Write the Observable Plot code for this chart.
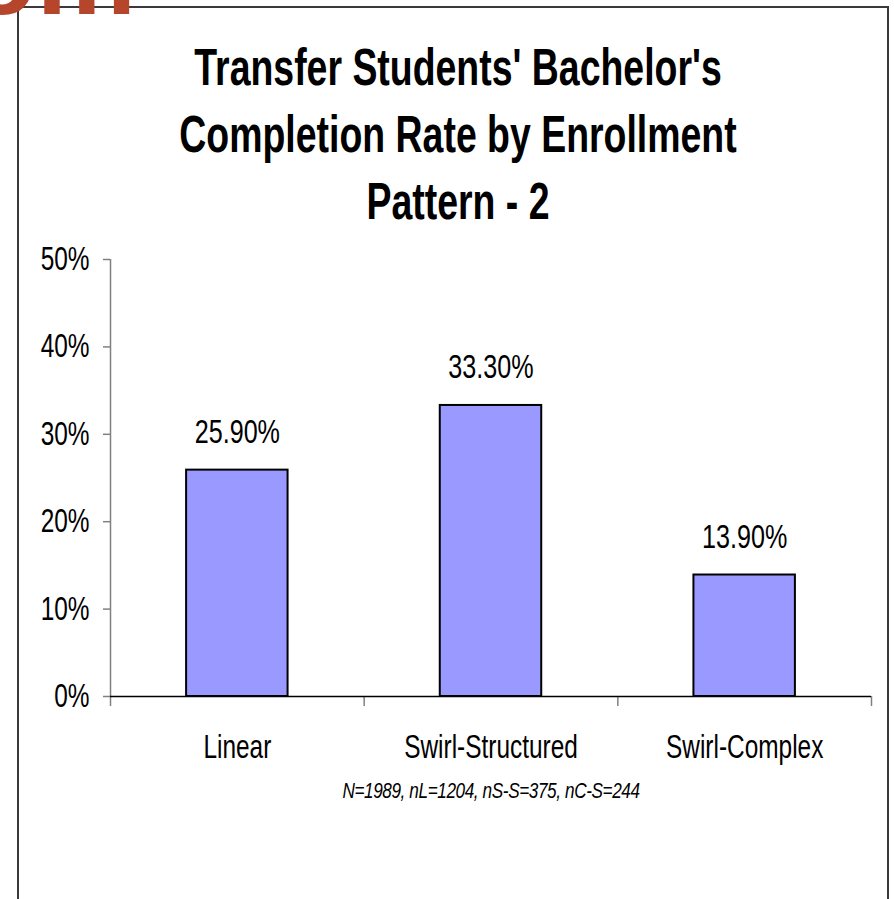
<!DOCTYPE html>
<html>
<head>
<meta charset="utf-8">
<script src="https://cdn.jsdelivr.net/npm/d3@7"></script>
<script src="https://cdn.jsdelivr.net/npm/@observablehq/plot@0.6"></script>
<style>
  body { margin: 0; background: #fff; }
  #wrap { position: relative; width: 894px; height: 899px; overflow: hidden; background: #fff; }
  #frame { position: absolute; left: 17px; top: 6px; width: 872px; height: 1000px; border: 2px solid #3a3a3a; box-sizing: border-box; }
  #chart { position: absolute; left: 0; top: 0; }
  #overlay { position: absolute; left: 0; top: 0; pointer-events: none; }
</style>
</head>
<body>
<div id="wrap">
  <div id="frame"></div>
  <div id="chart"></div>
  <svg id="overlay" width="894" height="899"></svg>
</div>
<script>
const categories = ["Linear", "Swirl-Structured", "Swirl-Complex"];
const rates = [0.259, 0.333, 0.139];
const valueLabels = ["25.90%", "33.30%", "13.90%"];
const yTicks = [0, 0.1, 0.2, 0.3, 0.4, 0.5];
const titleLines = ["Transfer Students' Bachelor's", "Completion Rate by Enrollment", "Pattern - 2"];
const caption = "N=1989, nL=1204, nS-S=375, nC-S=244";
const slideFragment = "om";

const data = categories.map((c, i) => ({i, category: c, value: rates[i], label: valueLabels[i]}));

const plot = Plot.plot({
  width: 894,
  height: 899,
  marginLeft: 110,
  marginRight: 23,
  marginTop: 259,
  marginBottom: 203,
  x: {domain: [0, categories.length], axis: null},
  y: {domain: [0, 0.5], axis: null},
  style: {fontFamily: "'Liberation Sans', Arial, sans-serif", fontSize: "33px", color: "black", background: "transparent", overflow: "visible"},
  marks: [
    Plot.ruleX([0], {stroke: "#808080", strokeWidth: 1.5}),
    Plot.axisY({ticks: yTicks, tickFormat: d3.format(".0%"), tickSize: 7, tickPadding: 14, stroke: "#808080", fill: "black", strokeWidth: 1.5, label: null}),
    Plot.axisX({ticks: d3.range(categories.length + 1), tickFormat: () => "", tickSize: 10, stroke: "#808080", strokeWidth: 1.5, label: null}),
    Plot.axisX({ticks: categories.map((c, i) => i + 0.5), tickFormat: v => categories[Math.floor(v)], tickSize: 0, tickPadding: 38, fill: "black", label: null}),
    Plot.rectY(data, {x1: d => d.i + 0.3, x2: d => d.i + 0.7, y1: 0, y2: "value", fill: "#9999ff", stroke: "black", strokeWidth: 2}),
    Plot.ruleY([0], {stroke: "black", strokeWidth: 1.5}),
    Plot.text(data, {x: d => d.i + 0.5, y: "value", text: "label", dy: -38, fontSize: 34, fill: "black"})
  ]
});

// condense text horizontally (narrow font look)
plot.querySelectorAll("text").forEach(t => {
  const tr = t.getAttribute("transform") || "";
  const x = t.getAttribute("x");
  let pre = tr;
  if (x !== null && x !== "" && !isNaN(+x)) { pre = `${tr} translate(${x},0)`; t.removeAttribute("x"); }
  t.setAttribute("transform", `${pre} scale(0.74,1)`);
});
document.getElementById("chart").appendChild(plot);

// overlay: title, caption, slide fragment
const ov = d3.select("#overlay");
ov.append("text")
  .attr("x", -32).attr("y", 13.5)
  .attr("font-family", "'Liberation Sans', Arial, sans-serif")
  .attr("font-weight", "bold").attr("font-size", 112)
  .attr("fill", "#B5452B")
  .text(slideFragment);

const titleBaselines = [85, 152, 219];
titleLines.forEach((line, k) => {
  ov.append("text")
    .attr("transform", `translate(458,${titleBaselines[k]}) scale(0.72,1)`)
    .attr("text-anchor", "middle")
    .attr("font-family", "'Liberation Sans', Arial, sans-serif")
    .attr("font-weight", "bold").attr("font-size", 52)
    .attr("fill", "black")
    .text(line);
});

ov.append("text")
  .attr("transform", "translate(491,798) scale(0.78,1)")
  .attr("text-anchor", "middle")
  .attr("font-family", "'Liberation Sans', Arial, sans-serif")
  .attr("font-style", "italic").attr("font-size", 22)
  .attr("letter-spacing", -0.5)
  .attr("fill", "black")
  .text(caption);
</script>
</body>
</html>
